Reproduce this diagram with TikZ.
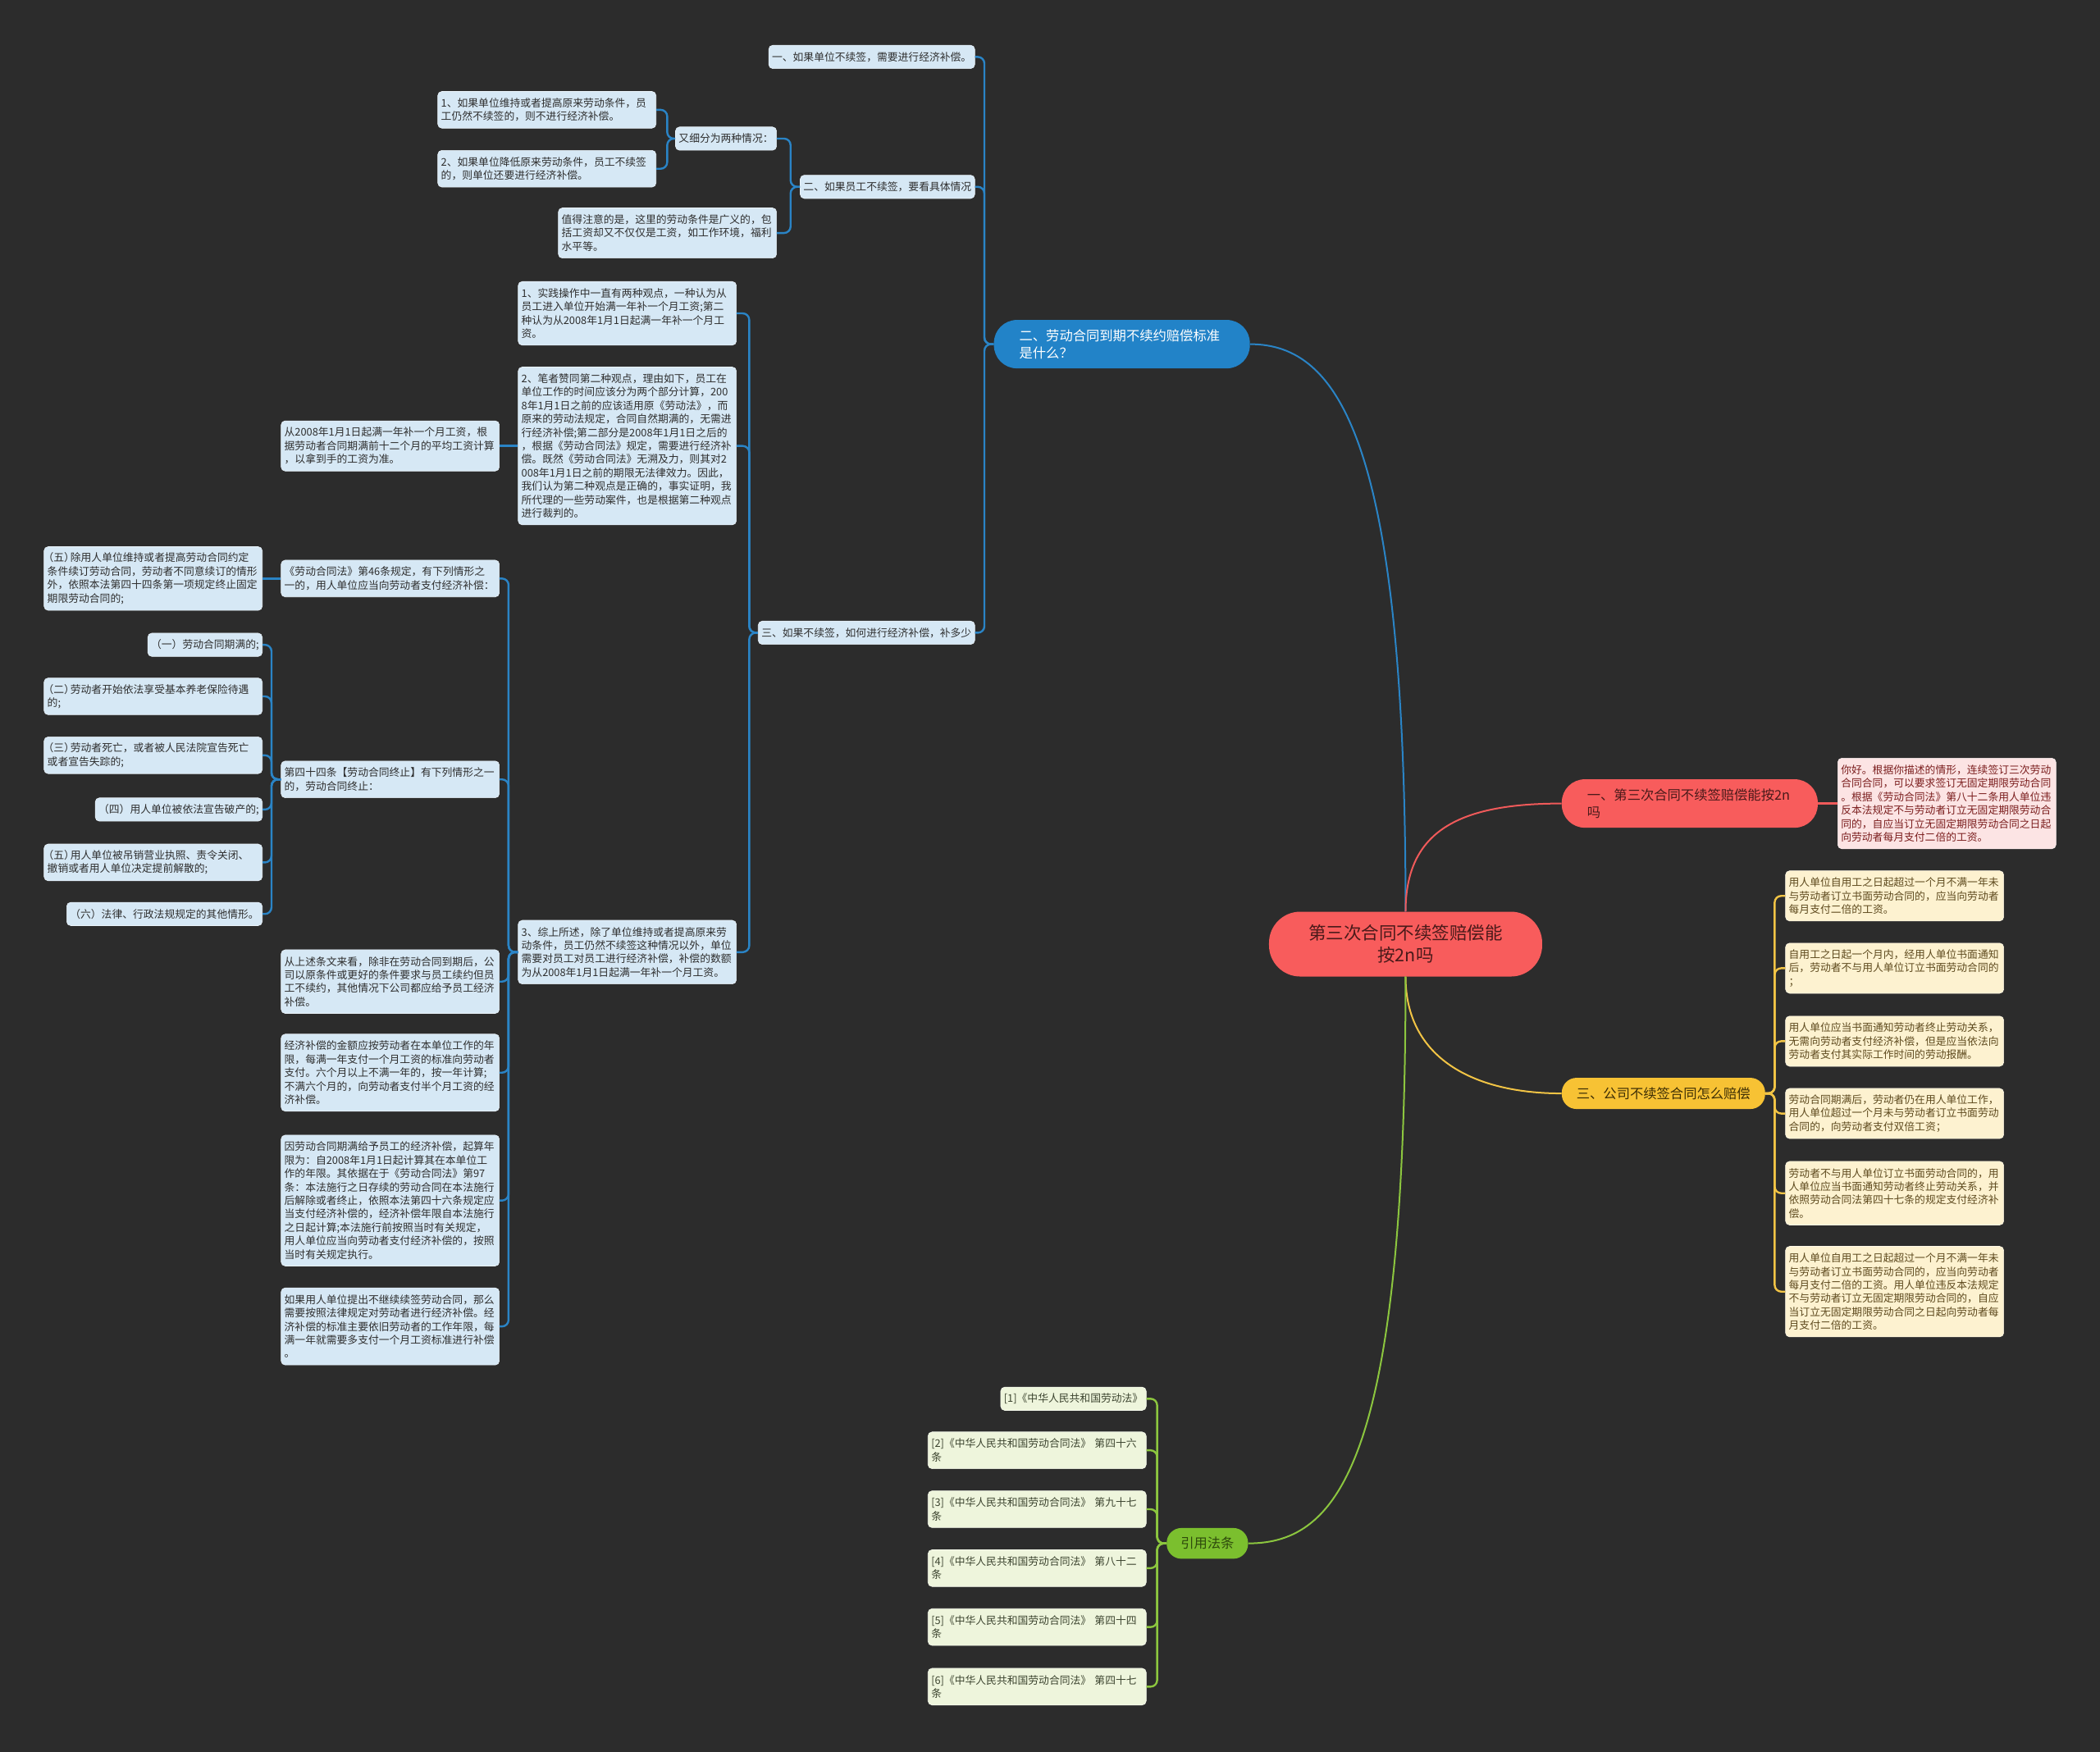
\documentclass[tikz,border=0pt]{standalone}
\usepackage{fontspec}
\setmainfont{Noto Sans CJK SC}
\definecolor{bgc}{HTML}{2C2C2C}
\definecolor{blueline}{HTML}{2A84C6}
\definecolor{bluefill}{HTML}{D6E8F5}
\definecolor{bluetext}{HTML}{2E2E2E}
\definecolor{bluepill}{HTML}{2283C8}
\definecolor{redpill}{HTML}{F85C5C}
\definecolor{redtext}{HTML}{4A1A1A}
\definecolor{redline}{HTML}{F05A5A}
\definecolor{redfill}{HTML}{FCE4E4}
\definecolor{redboxtext}{HTML}{7B1E1E}
\definecolor{yelpill}{HTML}{F7C234}
\definecolor{yeltext}{HTML}{3D2E05}
\definecolor{yelline}{HTML}{F2C445}
\definecolor{yelfill}{HTML}{FDF2D0}
\definecolor{yelboxtext}{HTML}{5E4A1E}
\definecolor{grnpill}{HTML}{7BBF2E}
\definecolor{grntext}{HTML}{2E4A0C}
\definecolor{grnline}{HTML}{8CC63F}
\definecolor{grnfill}{HTML}{EEF5DC}
\definecolor{grnboxtext}{HTML}{3D4530}
\newcommand\lpar{\makebox[0.6em][r]{（}}
\newcommand\rpar{\makebox[0.6em][l]{）}}
\newcommand\mmL[6]{\pgfmathsetlengthmacro\mmh{#5*16.4pt+12pt}\node[#2,anchor=east,minimum height=\mmh] (#1) at (#3,#4) {#6};}
\newcommand\mmR[6]{\pgfmathsetlengthmacro\mmh{#5*16.4pt+12pt}\node[#2,anchor=west,minimum height=\mmh] (#1) at (#3,#4) {#6};}
\tikzset{
  base/.style={rounded corners=5pt, inner xsep=4pt, inner ysep=0pt, align=left,
    font=\fontsize{12.8pt}{16.4pt}\selectfont, line width=0.6pt},
  wide/.style={text width=258pt},
  bbox/.style={base, fill=bluefill, draw=bluefill!50!white, text=bluetext},
  rbox/.style={base, fill=redfill, draw=redfill!50!white, text=redboxtext},
  ybox/.style={base, fill=yelfill, draw=yelfill!50!white, text=yelboxtext},
  gbox/.style={base, fill=grnfill, draw=grnfill!50!white, text=grnboxtext},
  pill/.style={align=left, font=\fontsize{16.3pt}{21.5pt}\selectfont, inner ysep=0pt},
  bl/.style={draw=blueline, line width=2.4pt, rounded corners=8pt},
  rl/.style={draw=redline, line width=2.4pt, rounded corners=8pt},
  yl/.style={draw=yelline, line width=2.4pt, rounded corners=8pt},
  gl/.style={draw=grnline, line width=2.4pt, rounded corners=8pt},
}
\begin{document}
\begin{tikzpicture}[x=1.6327pt,y=-1.6327pt]
\fill[bgc] (0,0) rectangle (1568,1308);
\useasboundingbox (0,0) rectangle (1568,1308);

% center
\node[fill=redpill, text=redtext, rounded corners=38pt, minimum width=333pt, minimum height=79pt,
  align=center, inner sep=0pt, font=\fontsize{21.5pt}{27pt}\selectfont] (c) at (1049.5,705)
  {第三次合同不续签赔偿能\\按2n吗};

% main pills
\node[pill, fill=bluepill, text=white, rounded corners=28pt, minimum height=59pt, text width=250pt,
  inner xsep=31pt, anchor=west] (bp) at (742,257) {二、劳动合同到期不续约赔偿标准\\是什么？};
\node[pill, fill=redpill, text=redtext, rounded corners=28pt, minimum height=59pt, text width=250pt,
  inner xsep=31pt, anchor=west] (rp) at (1166,600) {一、第三次合同不续签赔偿能按2n\\吗};
\node[pill, fill=yelpill, text=yeltext, rounded corners=18pt, minimum height=38pt,
  inner xsep=18pt, anchor=west] (yp) at (1166,816.5) {三、公司不续签合同怎么赔偿};
\node[pill, fill=grnpill, text=grntext, rounded corners=18pt, minimum height=37.5pt,
  inner xsep=17pt, anchor=east] (gp) at (932,1152.5) {引用法条};

% blue subtree
\mmL{b1}{bbox}{728}{42.5}{1}{一、如果单位不续签，需要进行经济补偿。}
\mmL{b2}{bbox}{728}{139.5}{1}{二、如果员工不续签，要看具体情况}
\mmL{b21}{bbox}{580}{103.5}{1}{又细分为两种情况：}
\mmL{b211}{bbox,wide}{490}{82}{2}{1、如果单位维持或者提高原来劳动条件，员\\工仍然不续签的，则不进行经济补偿。}
\mmL{b212}{bbox,wide}{490}{126}{2}{2、如果单位降低原来劳动条件，员工不续签\\的，则单位还要进行经济补偿。}
\mmL{b22}{bbox,wide}{580}{174}{3}{值得注意的是，这里的劳动条件是广义的，包\\括工资却又不仅仅是工资，如工作环境，福利\\水平等。}
\mmL{b3}{bbox}{728}{472.5}{1}{三、如果不续签，如何进行经济补偿，补多少}
\mmL{b31}{bbox,wide}{550}{234}{4}{1、实践操作中一直有两种观点，一种认为从\\员工进入单位开始满一年补一个月工资;第二\\种认为从2008年1月1日起满一年补一个月工\\资。}
\mmL{b32}{bbox,wide}{550}{333}{11}{2、笔者赞同第二种观点，理由如下，员工在\\单位工作的时间应该分为两个部分计算，200\\8年1月1日之前的应该适用原《劳动法》，而\\原来的劳动法规定，合同自然期满的，无需进\\行经济补偿;第二部分是2008年1月1日之后的\\，根据《劳动合同法》规定，需要进行经济补\\偿。既然《劳动合同法》无溯及力，则其对2\\008年1月1日之前的期限无法律效力。因此，\\我们认为第二种观点是正确的，事实证明，我\\所代理的一些劳动案件，也是根据第二种观点\\进行裁判的。}
\mmL{b321}{bbox,wide}{373}{333}{3}{从2008年1月1日起满一年补一个月工资，根\\据劳动者合同期满前十二个月的平均工资计算\\，以拿到手的工资为准。}
\mmL{b33}{bbox,wide}{550}{711}{4}{3、综上所述，除了单位维持或者提高原来劳\\动条件，员工仍然不续签这种情况以外，单位\\需要对员工对员工进行经济补偿，补偿的数额\\为从2008年1月1日起满一年补一个月工资。}
\mmL{b331}{bbox,wide}{373}{432}{2}{《劳动合同法》第46条规定，有下列情形之\\一的，用人单位应当向劳动者支付经济补偿：}
\mmL{b3311}{bbox,wide}{196}{432}{4}{\lpar 五\rpar 除用人单位维持或者提高劳动合同约定\\条件续订劳动合同，劳动者不同意续订的情形\\外，依照本法第四十四条第一项规定终止固定\\期限劳动合同的;}
\mmL{b332}{bbox,wide}{373}{582}{2}{第四十四条【劳动合同终止】有下列情形之一\\的，劳动合同终止：}
\mmL{b3321}{bbox}{196}{481.5}{1}{（一）劳动合同期满的;}
\mmL{b3322}{bbox,wide}{196}{520}{2}{\lpar 二\rpar 劳动者开始依法享受基本养老保险待遇\\的;}
\mmL{b3323}{bbox,wide}{196}{564}{2}{\lpar 三\rpar 劳动者死亡，或者被人民法院宣告死亡\\或者宣告失踪的;}
\mmL{b3324}{bbox}{196}{604.5}{1}{（四）用人单位被依法宣告破产的;}
\mmL{b3325}{bbox,wide}{196}{644}{2}{\lpar 五\rpar 用人单位被吊销营业执照、责令关闭、\\撤销或者用人单位决定提前解散的;}
\mmL{b3326}{bbox}{196}{682.5}{1}{（六）法律、行政法规规定的其他情形。}
\mmL{b333}{bbox,wide}{373}{733}{4}{从上述条文来看，除非在劳动合同到期后，公\\司以原条件或更好的条件要求与员工续约但员\\工不续约，其他情况下公司都应给予员工经济\\补偿。}
\mmL{b334}{bbox,wide}{373}{801}{5}{经济补偿的金额应按劳动者在本单位工作的年\\限，每满一年支付一个月工资的标准向劳动者\\支付。六个月以上不满一年的，按一年计算;\\不满六个月的，向劳动者支付半个月工资的经\\济补偿。}
\mmL{b335}{bbox,wide}{373}{896.5}{9}{因劳动合同期满给予员工的经济补偿，起算年\\限为：自2008年1月1日起计算其在本单位工\\作的年限。其依据在于《劳动合同法》第97\\条：本法施行之日存续的劳动合同在本法施行\\后解除或者终止，依照本法第四十六条规定应\\当支付经济补偿的，经济补偿年限自本法施行\\之日起计算;本法施行前按照当时有关规定，\\用人单位应当向劳动者支付经济补偿的，按照\\当时有关规定执行。}
\mmL{b336}{bbox,wide}{373}{990.5}{5}{如果用人单位提出不继续续签劳动合同，那么\\需要按照法律规定对劳动者进行经济补偿。经\\济补偿的标准主要依旧劳动者的工作年限，每\\满一年就需要多支付一个月工资标准进行补偿\\。}

% red subtree
\mmR{r11}{rbox,wide}{1372}{600}{6}{你好。根据你描述的情形，连续签订三次劳动\\合同合同，可以要求签订无固定期限劳动合同\\。根据《劳动合同法》第八十二条用人单位违\\反本法规定不与劳动者订立无固定期限劳动合\\同的，自应当订立无固定期限劳动合同之日起\\向劳动者每月支付二倍的工资。}

% yellow subtree
\mmR{y11}{ybox,wide}{1333}{669}{3}{用人单位自用工之日起超过一个月不满一年未\\与劳动者订立书面劳动合同的，应当向劳动者\\每月支付二倍的工资。}
\mmR{y12}{ybox,wide}{1333}{723}{3}{自用工之日起一个月内，经用人单位书面通知\\后，劳动者不与用人单位订立书面劳动合同的\\；}
\mmR{y13}{ybox,wide}{1333}{777.5}{3}{用人单位应当书面通知劳动者终止劳动关系，\\无需向劳动者支付经济补偿，但是应当依法向\\劳动者支付其实际工作时间的劳动报酬。}
\mmR{y14}{ybox,wide}{1333}{831.5}{3}{劳动合同期满后，劳动者仍在用人单位工作，\\用人单位超过一个月未与劳动者订立书面劳动\\合同的，向劳动者支付双倍工资；}
\mmR{y15}{ybox,wide}{1333}{891}{4}{劳动者不与用人单位订立书面劳动合同的，用\\人单位应当书面通知劳动者终止劳动关系，并\\依照劳动合同法第四十七条的规定支付经济补\\偿。}
\mmR{y16}{ybox,wide}{1333}{964.5}{6}{用人单位自用工之日起超过一个月不满一年未\\与劳动者订立书面劳动合同的，应当向劳动者\\每月支付二倍的工资。用人单位违反本法规定\\不与劳动者订立无固定期限劳动合同的，自应\\当订立无固定期限劳动合同之日起向劳动者每\\月支付二倍的工资。}

% green subtree
\mmL{g1}{gbox}{856}{1044.5}{1}{[1]《中华人民共和国劳动法》}
\mmL{g2}{gbox,wide}{856}{1083}{2}{[2]《中华人民共和国劳动合同法》 第四十六\\条}
\mmL{g3}{gbox,wide}{856}{1127}{2}{[3]《中华人民共和国劳动合同法》 第九十七\\条}
\mmL{g4}{gbox,wide}{856}{1171}{2}{[4]《中华人民共和国劳动合同法》 第八十二\\条}
\mmL{g5}{gbox,wide}{856}{1215}{2}{[5]《中华人民共和国劳动合同法》 第四十四\\条}
\mmL{g6}{gbox,wide}{856}{1259.5}{2}{[6]《中华人民共和国劳动合同法》 第四十七\\条}

% main curves
\draw[draw=blueline, line width=2pt] (c.north) .. controls (1049.5,330) and (1000,257) .. (bp.east);
\draw[draw=redline, line width=2pt] (c.north) .. controls (1049.5,620) and (1090,600) .. (rp.west);
\draw[draw=yelline, line width=2pt] (c.south) .. controls (1049.5,790) and (1100,816.5) .. (yp.west);
\draw[draw=grnline, line width=2pt] (c.south) .. controls (1049.5,1090) and (1000,1152.5) .. (gp.east);

% brackets
\foreach \k in {b1,b2,b3} \draw[bl] (bp.west) -- ++(-7,0) |- (\k.east);
\foreach \k in {b21,b22} \draw[bl] (b2.west) -- ++(-7,0) |- (\k.east);
\foreach \k in {b211,b212} \draw[bl] (b21.west) -- ++(-6,0) |- (\k.east);
\foreach \k in {b31,b32,b33} \draw[bl] (b3.west) -- ++(-6.5,0) |- (\k.east);
\draw[bl] (b32.west) -- (b321.east);
\foreach \k in {b331,b332,b333,b334,b335,b336} \draw[bl] (b33.west) -- ++(-7,0) |- (\k.east);
\draw[bl] (b331.west) -- (b3311.east);
\foreach \k in {b3321,b3322,b3323,b3324,b3325,b3326} \draw[bl] (b332.west) -- ++(-7,0) |- (\k.east);
\draw[rl] (rp.east) -- (r11.west);
\foreach \k in {y11,y12,y13,y14,y15,y16} \draw[yl] (yp.east) -- ++(7,0) |- (\k.west);
\foreach \k in {g1,g2,g3,g4,g5,g6} \draw[gl] (gp.west) -- ++(-7,0) |- (\k.east);
\end{tikzpicture}
\end{document}
